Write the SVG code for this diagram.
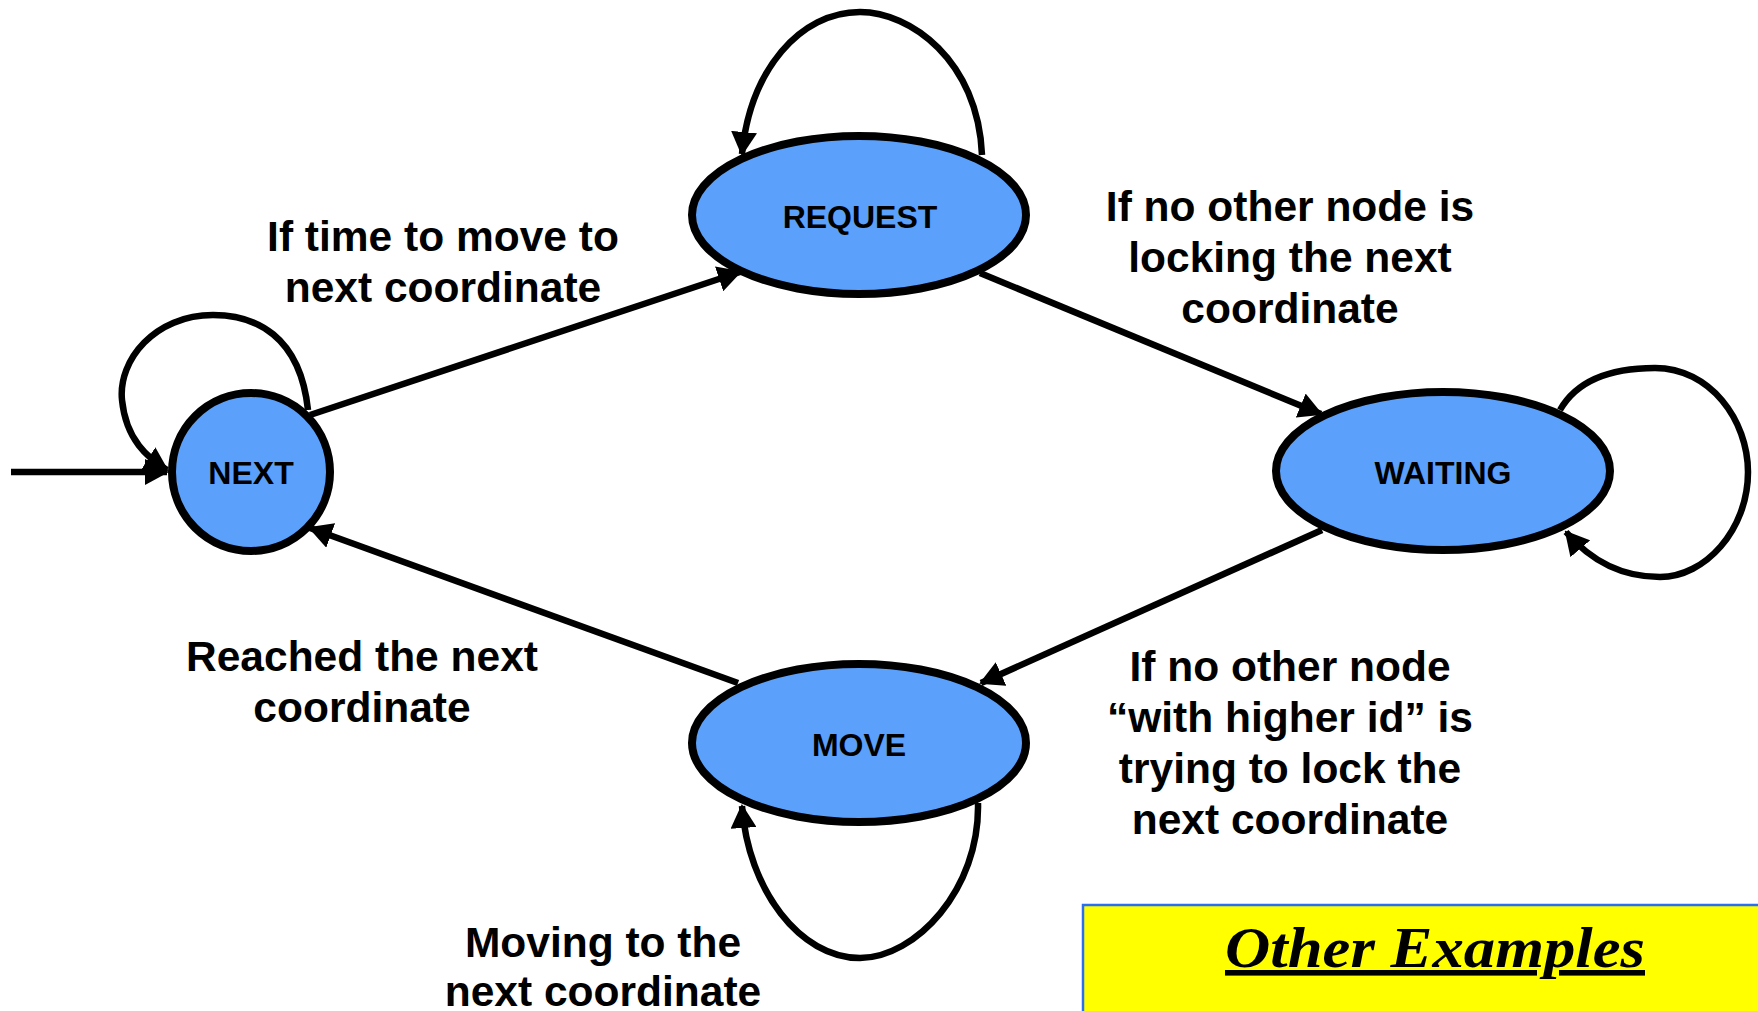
<svg xmlns="http://www.w3.org/2000/svg" width="1758" height="1011" viewBox="0 0 1758 1011">
  <style>
    .state { fill: #5ba0fb; stroke: #000; stroke-width: 8; }
    .state-label { font-family: "Liberation Sans", Arial, sans-serif; font-weight: bold; font-size: 32px; fill: #000; text-anchor: middle; }
    .edge { fill: none; stroke: #000; stroke-width: 6.5; marker-end: url(#head); }
    .cond { font-family: "Liberation Sans", Arial, sans-serif; font-weight: bold; font-size: 42.5px; fill: #000; text-anchor: middle; }
    .banner { fill: #ffff00; stroke: #2a6ff2; stroke-width: 2.5; }
    .banner-text { font-family: "Liberation Serif", "Times New Roman", serif; font-weight: bold; font-style: italic; font-size: 56px; fill: #000; text-anchor: middle; text-decoration: underline; }
  </style>
  <defs>
    <marker id="head" markerUnits="userSpaceOnUse" markerWidth="24" markerHeight="26" viewBox="0 0 24 26" refX="22" refY="13" orient="auto">
      <path d="M0,0 L24,13 L0,26 z" fill="#000"/>
    </marker>
  </defs>

  <rect width="1758" height="1011" fill="#fff"/>

  <!-- transitions -->
  <g id="connectors">
    <!-- start arrow -->
    <line class="edge" x1="11" y1="472" x2="167" y2="472" stroke-width="7"/>
    <!-- NEXT -> REQUEST -->
    <line class="edge" x1="310" y1="415" x2="740" y2="272"/>
    <!-- REQUEST -> WAITING -->
    <line class="edge" x1="980" y1="273" x2="1321" y2="414"/>
    <!-- WAITING -> MOVE -->
    <line class="edge" x1="1322" y1="530" x2="981" y2="683"/>
    <!-- MOVE -> NEXT -->
    <line class="edge" x1="738" y1="683" x2="310" y2="528"/>
    <!-- self loops -->
    <path class="edge" d="M308,410 C300,335 255,315 213,315 C155,315 118,360 122,400 C126,440 148,458 167,470"/>
    <path class="edge" d="M982,155 C978,60 910,12 860,12 C800,12 750,70 742,154"/>
    <path class="edge" d="M1560,410 C1580,375 1620,368 1655,368 C1710,368 1748,420 1748,472 C1748,530 1705,577 1660,577 C1620,577 1590,560 1566,532"/>
    <path class="edge" d="M978,803 C980,890 915,958 860,958 C800,958 748,890 742,806"/>
  </g>

  <g id="node-next">
    <circle class="state" cx="251" cy="472" r="79"/>
    <text class="state-label" x="251" y="484">NEXT</text>
  </g>
  <g id="node-request">
    <ellipse class="state" cx="859" cy="215" rx="167" ry="79"/>
    <text class="state-label" x="860" y="228">REQUEST</text>
  </g>
  <g id="node-waiting">
    <ellipse class="state" cx="1443" cy="471" rx="167" ry="79"/>
    <text class="state-label" x="1443" y="484">WAITING</text>
  </g>
  <g id="node-move">
    <ellipse class="state" cx="859" cy="743" rx="167" ry="79"/>
    <text class="state-label" x="859" y="756">MOVE</text>
  </g>

  <!-- transition conditions -->
  <g id="labels">
    <text class="cond" x="443" y="251">If time to move to</text>
    <text class="cond" x="443" y="302">next coordinate</text>

    <text class="cond" x="1290" y="221">If no other node is</text>
    <text class="cond" x="1290" y="272">locking the next</text>
    <text class="cond" x="1290" y="323">coordinate</text>

    <text class="cond" x="1290" y="681">If no other node</text>
    <text class="cond" x="1290" y="732">“with higher id” is</text>
    <text class="cond" x="1290" y="783">trying to lock the</text>
    <text class="cond" x="1290" y="834">next coordinate</text>

    <text class="cond" x="362" y="671">Reached the next</text>
    <text class="cond" x="362" y="722">coordinate</text>

    <text class="cond" x="603" y="957">Moving to the</text>
    <text class="cond" x="603" y="1006">next coordinate</text>
  </g>

  <g id="other-examples">
    <rect class="banner" x="1083" y="905" width="690" height="120"/>
    <text class="banner-text" x="1435" y="967" textLength="420" lengthAdjust="spacingAndGlyphs">Other Examples</text>
  </g>
</svg>
